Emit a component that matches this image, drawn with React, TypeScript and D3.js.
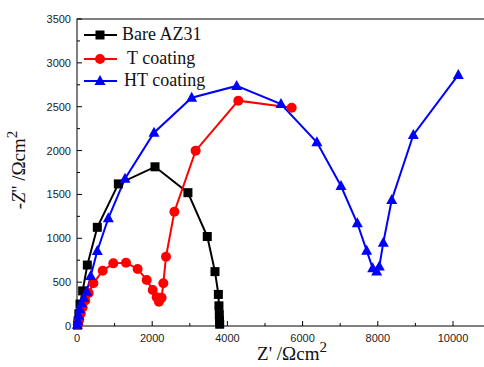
import { useEffect, useRef } from 'react';
import * as d3 from 'd3';

// Z' (ohm cm2) and -Z'' (ohm cm2)
const bareRe = [15, 30, 50, 80, 150, 275, 540, 1100, 2075, 2950, 3465, 3670, 3760, 3775, 3785, 3790, 3795];
const bareIm = [10, 60, 140, 250, 400, 695, 1125, 1620, 1815, 1520, 1020, 620, 360, 230, 130, 60, 20];

const tRe = [30, 60, 100, 150, 220, 310, 435, 683, 966, 1303, 1613, 1853, 2013, 2118, 2180, 2250, 2296, 2367, 2590, 3156, 4290, 5710];
const tIm = [20, 70, 140, 210, 290, 376, 487, 630, 714, 722, 650, 525, 410, 327, 277, 323, 487, 790, 1303, 1999, 2569, 2489];

const htRe = [10, 25, 45, 75, 120, 180, 258, 364, 540, 833, 1277, 2048, 3050, 4246, 5426, 6380, 7021, 7455, 7704, 7864, 7970, 8040, 8146, 8370, 8945, 10141];
const htIm = [15, 60, 120, 190, 260, 320, 391, 570, 855, 1228, 1680, 2204, 2603, 2737, 2531, 2095, 1596, 1171, 859, 658, 620, 677, 950, 1437, 2178, 2862];

const xTicks = [0, 2000, 4000, 6000, 8000, 10000];
const yTicks = [0, 500, 1000, 1500, 2000, 2500, 3000, 3500];
const seriesNames = ['Bare AZ31', 'T coating', 'HT coating'];
const seriesColors = ['#000000', '#ff0000', '#0000ff'];

export default function App() {
  const svgRef = useRef<SVGSVGElement>(null);

  useEffect(() => {
    document.body.style.margin = '0';
    if (!svgRef.current) return;
    const svg = d3.select(svgRef.current);
    svg.selectAll('*').remove();

    const x = d3.scaleLinear().domain([0, 11000]).range([77, 490.6]);
    const y = d3.scaleLinear().domain([0, 3500]).range([326, 19]);

    const g = svg.append('g');

    // frame
    g.append('rect')
      .attr('x', 77).attr('y', 19)
      .attr('width', 413.6).attr('height', 307)
      .attr('fill', 'none').attr('stroke', '#000').attr('stroke-width', 1);

    // x ticks (inward)
    d3.range(0, 11001, 1000).forEach(v => {
      const major = v % 2000 === 0;
      g.append('line')
        .attr('x1', x(v)).attr('x2', x(v))
        .attr('y1', 326).attr('y2', 326 - (major ? 5 : 3))
        .attr('stroke', '#000');
    });
    g.selectAll('.xl').data(xTicks).enter().append('text')
      .attr('x', d => x(d)).attr('y', 342)
      .attr('text-anchor', 'middle')
      .attr('font-family', 'Liberation Sans, Arial, sans-serif')
      .attr('font-size', 11).attr('fill', '#222')
      .text(d => String(d));

    // y ticks (inward)
    d3.range(0, 3501, 250).forEach(v => {
      const major = v % 500 === 0;
      g.append('line')
        .attr('x1', 77).attr('x2', 77 + (major ? 5 : 3))
        .attr('y1', y(v)).attr('y2', y(v))
        .attr('stroke', '#000');
    });
    g.selectAll('.yl').data(yTicks).enter().append('text')
      .attr('x', 71).attr('y', d => y(d) + 4)
      .attr('text-anchor', 'end')
      .attr('font-family', 'Liberation Sans, Arial, sans-serif')
      .attr('font-size', 11).attr('fill', '#222')
      .text(d => String(d));

    // axis titles
    const xt = g.append('text')
      .attr('x', 292).attr('y', 360)
      .attr('text-anchor', 'middle')
      .attr('font-family', 'Liberation Serif, Times New Roman, serif')
      .attr('font-size', 19).attr('fill', '#111');
    xt.append('tspan').text("Z' /Ωcm");
    xt.append('tspan').attr('dy', -8).attr('font-size', 15).text('2');

    const yt = g.append('text')
      .attr('transform', 'translate(25,170) rotate(-90)')
      .attr('text-anchor', 'middle')
      .attr('font-family', 'Liberation Serif, Times New Roman, serif')
      .attr('font-size', 19).attr('fill', '#111');
    yt.append('tspan').text('-');
    yt.append('tspan').attr('font-style', 'italic').text('Z');
    yt.append('tspan').text("'' /Ωcm");
    yt.append('tspan').attr('dy', -8).attr('font-size', 15).text('2');

    const line = d3.line<[number, number]>().x(d => x(d[0])).y(d => y(d[1]));
    const sets: [number, number][][] = [
      bareRe.map((v, i) => [v, bareIm[i]]),
      tRe.map((v, i) => [v, tIm[i]]),
      htRe.map((v, i) => [v, htIm[i]]),
    ];

    const drawMarker = (sel: d3.Selection<SVGGElement, unknown, null, undefined>, k: number, cx: number, cy: number) => {
      const c = seriesColors[k];
      if (k === 0) {
        sel.append('rect').attr('x', cx - 4.5).attr('y', cy - 4.5).attr('width', 9).attr('height', 9).attr('fill', c);
      } else if (k === 1) {
        sel.append('circle').attr('cx', cx).attr('cy', cy).attr('r', 5).attr('fill', c);
      } else {
        sel.append('path')
          .attr('d', `M${cx},${cy - 6}L${cx + 5.5},${cy + 4}L${cx - 5.5},${cy + 4}Z`)
          .attr('fill', c);
      }
    };

    const plot = g.append('g');
    sets.forEach((pts, k) => {
      plot.append('path')
        .attr('d', line(pts) || '')
        .attr('fill', 'none')
        .attr('stroke', seriesColors[k])
        .attr('stroke-width', 2);
    });
    sets.forEach((pts, k) => {
      const mg = plot.append('g');
      pts.forEach(p => drawMarker(mg, k, x(p[0]), y(p[1])));
    });

    // legend
    const legend = g.append('g');
    const labelX = [122, 127, 124];
    const rowY = [35, 59, 81];
    seriesNames.forEach((name, k) => {
      const ly = rowY[k];
      legend.append('line')
        .attr('x1', 84).attr('x2', 117).attr('y1', ly).attr('y2', ly)
        .attr('stroke', seriesColors[k]).attr('stroke-width', 2);
      drawMarker(legend, k, 100, ly);
      legend.append('text')
        .attr('x', labelX[k]).attr('y', ly + 5)
        .attr('font-family', 'Liberation Serif, Times New Roman, serif')
        .attr('font-size', 18).attr('fill', '#111')
        .text(name);
    });
  }, []);

  return (
    <svg ref={svgRef} width={484} height={367} style={{ display: 'block', background: '#fff' }} />
  );
}
